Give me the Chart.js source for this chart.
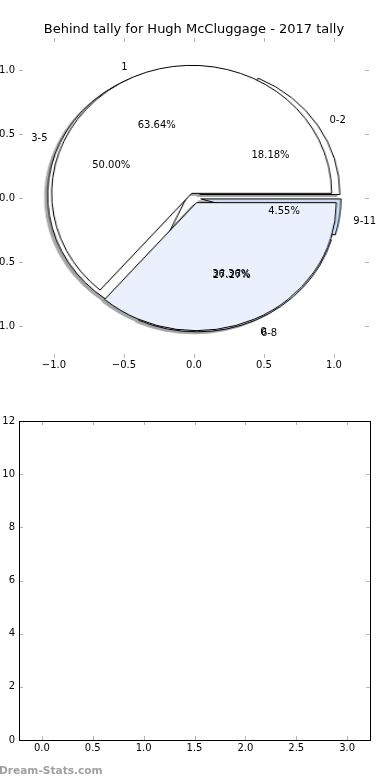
<!DOCTYPE html>
<html>
<head>
<meta charset="utf-8">
<script src="https://cdn.jsdelivr.net/npm/chart.js@4.4.1/dist/chart.umd.min.js"></script>
<style>
html,body{margin:0;padding:0;background:#fff;width:390px;height:780px;overflow:hidden;font-family:"DejaVu Sans",sans-serif;}
.layer{position:absolute;left:0;top:0;}
#pies{position:absolute;left:0;top:0;width:390px;height:380px;filter:drop-shadow(-2.8px 2.6px 0px rgba(77,77,77,0.5));}
#pies canvas{position:absolute;left:0;top:0;transform-origin:194px 198px;transform:scaleX(1.09375);}
#wm{position:absolute;left:-1px;top:764px;font:bold 10.6px "DejaVu Sans",sans-serif;color:#a0a0a0;white-space:nowrap;}
</style>
</head>
<body>
<div id="pies">
  <canvas id="pieRange" width="390" height="380"></canvas>
  <canvas id="pieTally" width="390" height="380"></canvas>
</div>
<canvas id="axTop" class="layer" width="390" height="380"></canvas>
<canvas id="axBot" class="layer" style="top:390px" width="390" height="390"></canvas>
<div id="wm">Dream-Stats.com</div>
<script>
// ---------------- data ----------------
const chartTitle = 'Behind tally for Hugh McCluggage - 2017 tally';
const rangeLabels = ['0-2', '3-5', '6-8', '9-11'];
const rangeCounts = [4, 11, 6, 1];
const rangeColors = ['#ffffff', '#ffffff', '#eaf1fc', '#c9ddf6'];
const rangeExplode = [0.05, 0.05, 0.05, 0.05];
const tallyLabels = ['1', '0'];
const tallyCounts = [7, 4];
const tallyColors = ['#ffffff', '#eaf1fc'];
const tallyExplode = [0.04, 0.04];
const pieTicks = [-1, -0.5, 0, 0.5, 1];
const barXTicks = [0, 0.5, 1, 1.5, 2, 2.5, 3];
const barYTicks = [0, 2, 4, 6, 8, 10, 12];

// ---------------- helpers ----------------
const PIE_R = 128;            // radius in px (vertical); stretched horizontally by CSS
const FONT = '"DejaVu Sans", sans-serif';
const TICK_COLOR = '#b4b4b4';
const fmt1 = v => (v < 0 ? '\u2212' : '') + Math.abs(v).toFixed(1);

// draws exploded wedges (matplotlib-style explode) in matplotlib order
const explodePlugin = {
  id: 'explode',
  beforeDatasetDraw(chart, args) {
    const ds = chart.data.datasets[args.index];
    const ctx = chart.ctx;
    const arcs = args.meta.data;
    for (let i = arcs.length - 1; i >= 0; i--) {
      const arc = arcs[i];
      const mid = (arc.startAngle + arc.endAngle) / 2;
      const d = ds.explode[i] * PIE_R;
      ctx.save();
      ctx.translate(Math.cos(mid) * d, Math.sin(mid) * d);
      arc.draw(ctx, chart.chartArea);
      ctx.restore();
    }
    return false;
  }
};

function makePie(id, labels, counts, colors, explode) {
  const rev = a => a.slice().reverse();   // matplotlib goes counter-clockwise from east
  return new Chart(document.getElementById(id), {
    type: 'pie',
    data: {
      labels: rev(labels),
      datasets: [{
        data: rev(counts),
        backgroundColor: rev(colors),
        borderColor: '#000000',
        borderWidth: 1,
        explode: rev(explode)
      }]
    },
    options: {
      responsive: false,
      animation: false,
      events: [],
      rotation: 90,
      radius: PIE_R,
      layout: { padding: { left: 0, right: 2, top: 16, bottom: 0 } },
      plugins: { legend: { display: false }, tooltip: { enabled: false } }
    },
    plugins: [explodePlugin]
  });
}

makePie('pieRange', rangeLabels, rangeCounts, rangeColors, rangeExplode);
makePie('pieTally', tallyLabels, tallyCounts, tallyColors, tallyExplode);

function pieTexts(labels, counts, explode) {
  const total = counts.reduce((a, b) => a + b, 0);
  let cum = 0;
  return counts.map((c, i) => {
    const a1 = cum / total * 2 * Math.PI;
    cum += c;
    const a2 = cum / total * 2 * Math.PI;
    const m = (a1 + a2) / 2;
    const cx = explode[i] * Math.cos(m), cy = explode[i] * Math.sin(m);
    return {
      label: labels[i],
      lx: cx + 1.1 * Math.cos(m), ly: cy + 1.1 * Math.sin(m),
      pct: (c / total * 100).toFixed(2) + '%',
      px: cx + 0.6 * Math.cos(m), py: cy + 0.6 * Math.sin(m)
    };
  });
}

function tickMarks(chart, xs, ys) {
  const {ctx, chartArea: a, scales} = chart;
  ctx.save();
  ctx.strokeStyle = TICK_COLOR;
  ctx.lineWidth = 1;
  ctx.beginPath();
  xs.forEach(v => {
    const x = Math.round(scales.x.getPixelForValue(v)) + 0.5;
    ctx.moveTo(x, a.top); ctx.lineTo(x, a.top + 4);
    ctx.moveTo(x, a.bottom); ctx.lineTo(x, a.bottom - 4);
  });
  ys.forEach(v => {
    const y = Math.round(scales.y.getPixelForValue(v)) + 0.5;
    ctx.moveTo(a.left, y); ctx.lineTo(a.left + 4, y);
    ctx.moveTo(a.right, y); ctx.lineTo(a.right - 4, y);
  });
  ctx.stroke();
  ctx.restore();
}

const pieTextPlugin = {
  id: 'pieText',
  afterDraw(chart) {
    const {ctx, scales} = chart;
    tickMarks(chart, pieTicks, pieTicks);
    ctx.save();
    ctx.fillStyle = '#000';
    ctx.font = '10px ' + FONT;
    ctx.textBaseline = 'middle';
    const dy = 2; // matplotlib centres the full text box (incl. descent)
    const groups = [pieTexts(rangeLabels, rangeCounts, rangeExplode), pieTexts(tallyLabels, tallyCounts, tallyExplode)];
    groups.forEach(g => g.forEach(t => {
      ctx.textAlign = t.lx > 0 ? 'left' : 'right';
      ctx.fillText(t.label, scales.x.getPixelForValue(t.lx), scales.y.getPixelForValue(t.ly) + dy);
      ctx.textAlign = 'center';
      ctx.fillText(t.pct, scales.x.getPixelForValue(t.px), scales.y.getPixelForValue(t.py) + dy);
    }));
    ctx.restore();
  }
};

new Chart(document.getElementById('axTop'), {
  type: 'scatter',
  data: { datasets: [] },
  options: {
    responsive: false,
    animation: false,
    events: [],
    layout: { padding: { left: 0, right: 21, top: 0, bottom: 0 } },
    plugins: {
      legend: { display: false },
      tooltip: { enabled: false },
      title: {
        display: true, text: chartTitle, color: '#000', fullSize: false,
        font: { family: FONT, size: 13, weight: 'normal', lineHeight: 1.2 },
        padding: { top: 22, bottom: 0.4 }
      }
    },
    scales: {
      x: {
        type: 'linear', min: -1.25, max: 1.25,
        grid: { display: false, drawTicks: false }, border: { display: false },
        afterBuildTicks: s => { s.ticks = pieTicks.map(v => ({ value: v })); },
        afterFit: s => { s.height = 22; },
        ticks: { color: '#000', font: { family: FONT, size: 10 }, padding: 1, maxRotation: 0, callback: fmt1 }
      },
      y: {
        type: 'linear', min: -1.25, max: 1.25,
        grid: { display: false, drawTicks: false }, border: { display: false },
        afterBuildTicks: s => { s.ticks = pieTicks.map(v => ({ value: v })); },
        afterFit: s => { s.width = 19; },
        ticks: { color: '#000', font: { family: FONT, size: 10 }, padding: 4, callback: fmt1 }
      }
    }
  },
  plugins: [pieTextPlugin]
});

const framePlugin = {
  id: 'frame',
  afterDraw(chart) {
    const {ctx, chartArea: a} = chart;
    tickMarks(chart, barXTicks, barYTicks);
    ctx.save();
    ctx.strokeStyle = '#000';
    ctx.lineWidth = 1;
    ctx.strokeRect(Math.round(a.left) + 0.5, Math.round(a.top) + 0.5, Math.round(a.right - a.left), Math.round(a.bottom - a.top));
    ctx.restore();
  }
};

new Chart(document.getElementById('axBot'), {
  type: 'scatter',
  data: { datasets: [] },
  options: {
    responsive: false,
    animation: false,
    events: [],
    layout: { padding: { left: 0, right: 20, top: 31, bottom: 18 } },
    plugins: { legend: { display: false }, tooltip: { enabled: false } },
    scales: {
      x: {
        type: 'linear', min: -0.225, max: 3.225,
        grid: { display: false, drawTicks: false }, border: { display: false },
        afterBuildTicks: s => { s.ticks = barXTicks.map(v => ({ value: v })); },
        afterFit: s => { s.height = 22; },
        ticks: { color: '#000', font: { family: FONT, size: 10 }, padding: 2, maxRotation: 0, callback: fmt1 }
      },
      y: {
        type: 'linear', min: 0, max: 12,
        grid: { display: false, drawTicks: false }, border: { display: false },
        afterBuildTicks: s => { s.ticks = barYTicks.map(v => ({ value: v })); },
        afterFit: s => { s.width = 19; },
        ticks: { color: '#000', font: { family: FONT, size: 10 }, padding: 4, callback: v => String(v) }
      }
    }
  },
  plugins: [framePlugin]
});
</script>
</body>
</html>
